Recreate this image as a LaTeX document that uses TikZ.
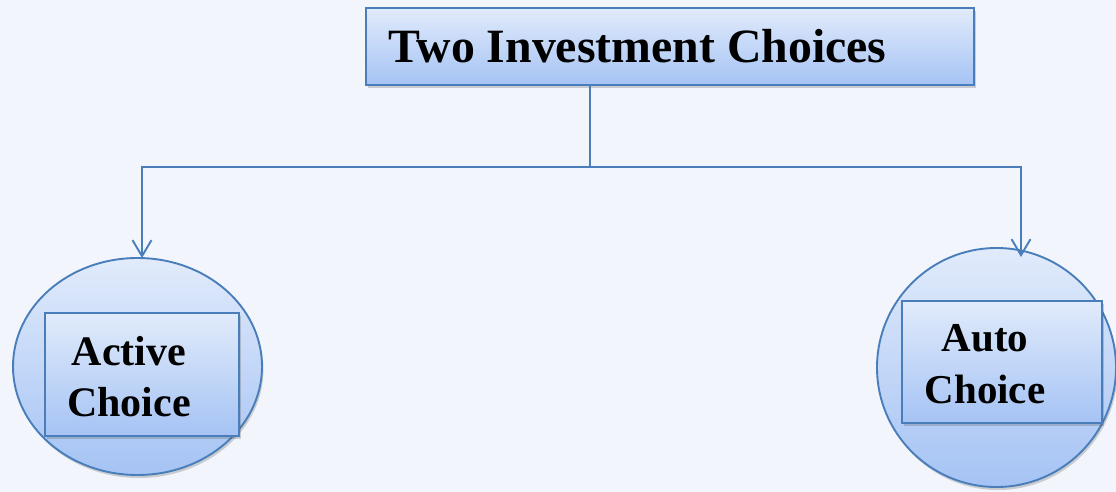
\documentclass[tikz,border=0pt]{standalone}
\usepackage{fontspec}
\setmainfont{Liberation Serif}
\usetikzlibrary{arrows.meta, shapes.geometric, shadows}

\definecolor{bgcol}{HTML}{F2F6FC}
\definecolor{edgecol}{HTML}{4A7EBB}
\definecolor{filltop}{HTML}{E1EBFB}
\definecolor{fillbot}{HTML}{A5C3F4}

\tikzset{
  shade box/.style={draw=edgecol, line width=1.9pt, top color=filltop, bottom color=fillbot,
                    drop shadow={shadow xshift=1.5pt, shadow yshift=-3pt, opacity=0.25, fill=black!70}},
  choicebox/.style={shade box, rectangle, inner sep=0pt},
  link/.style={draw=edgecol, line width=1.9pt},
  arrow/.style={link, -{Straight Barb[length=16pt, width=19pt]}},
  label/.style={font=\bfseries\fontsize{42}{51}\selectfont, align=center, inner sep=0pt}
}

\begin{document}
\begin{tikzpicture}[x=1pt, y=-1pt]
          \fill[bgcol] (0,0) rectangle (1116,492);
          \useasboundingbox (0,0) rectangle (1116,492);

          \node[choicebox, minimum width=608pt, minimum height=77pt] (top) at (670, 46.5) {};
          \node[anchor=base west, inner sep=0pt, font=\bfseries\fontsize{47.8}{56}\selectfont]
               (title) at (388, 63) {Two Investment Choices};

          \node[shade box, ellipse, minimum width=249pt, minimum height=217pt, inner sep=0pt]
               (lc) at (137.5, 366.5) {};
          \node[shade box, circle, minimum size=239pt, inner sep=0pt]
               (rc) at (996.5, 367.5) {};

          \node[choicebox, minimum width=194pt, minimum height=123pt] (lbox) at (142, 374.5) {};
          \node[choicebox, minimum width=200pt, minimum height=122pt] (rbox) at (1002, 362) {};

          \node[label] (active) at (129, 376.5) {Active\\Choice};
          \node[label, font=\bfseries\fontsize{41}{52}\selectfont] (auto) at (985, 364) {Auto\\Choice};

          \coordinate (jn) at (590, 167);
          \coordinate (la) at (142, 258);
          \coordinate (ra) at (1021, 257);

          \draw[link] (top.south -| jn) -- (jn);
          \draw[arrow] (jn) -| (la);
          \draw[arrow] (jn) -| (ra);
        \end{tikzpicture}
\end{document}
